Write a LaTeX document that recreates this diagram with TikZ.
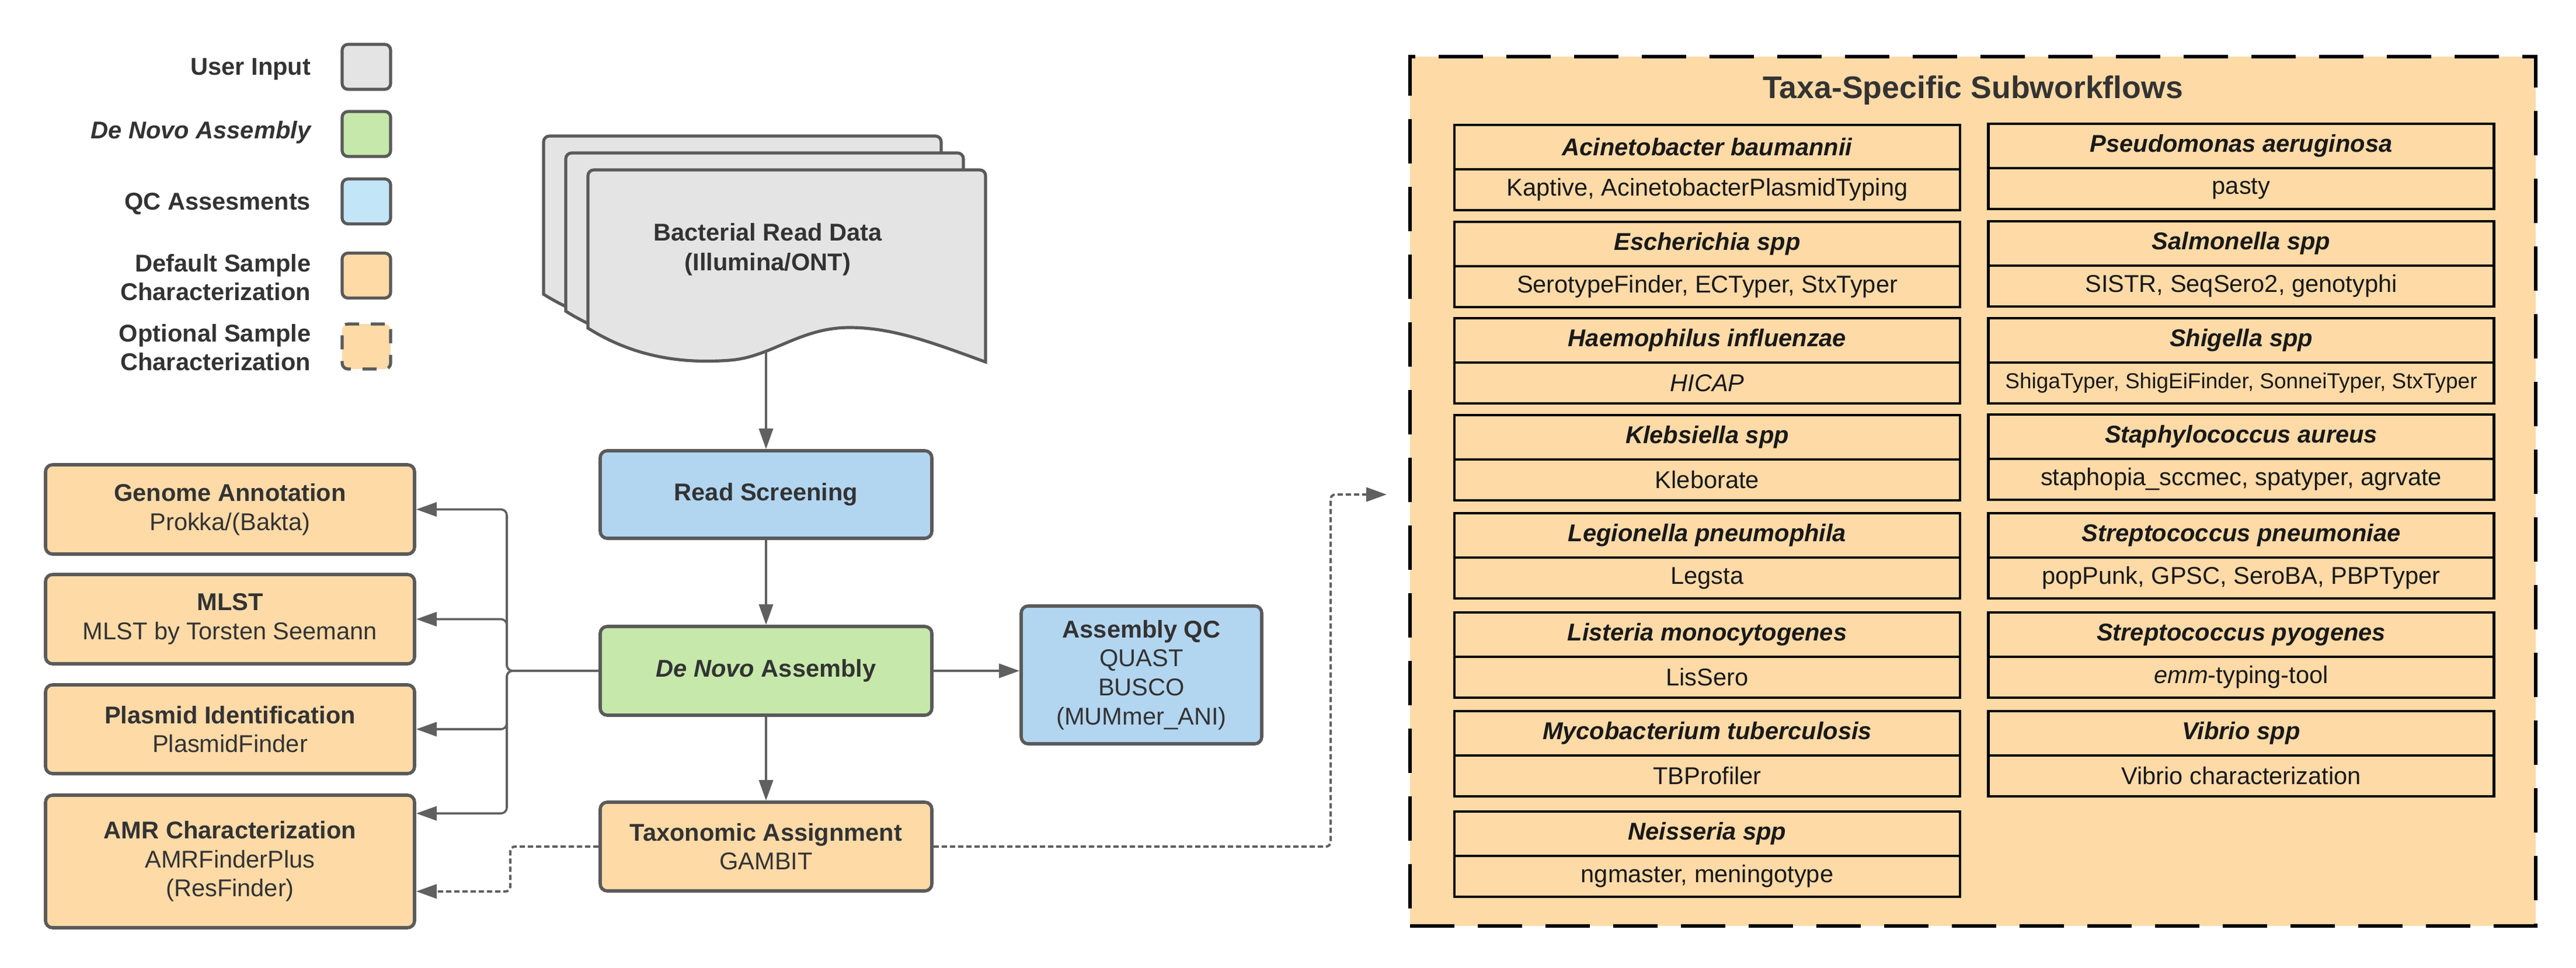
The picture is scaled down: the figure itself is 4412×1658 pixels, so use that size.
\documentclass[tikz,border=0pt]{standalone}
\usepackage{fontspec}
\setmainfont{Liberation Sans}
\usetikzlibrary{arrows.meta,calc}
\definecolor{txtc}{HTML}{333333}
\definecolor{bord}{HTML}{5A5A5A}
\definecolor{linec}{HTML}{606060}
\definecolor{orng}{HTML}{FEDAA7}
\definecolor{grn}{HTML}{C6E8AB}
\definecolor{blu}{HTML}{B2D5F0}
\definecolor{lblu}{HTML}{C2E5F7}
\definecolor{gry}{HTML}{E4E4E4}
\newcommand\fs{\fontsize{10.4}{12.4}\selectfont}
\newcommand\docsheet[2]{%
  \path[sheet, shift={(#1,#2)}] (1007,562) [rounded corners=2.5pt] -- (1007,291) -- (1688,291) [sharp corners] -- (1688,620)
    .. controls (1600,588) and (1530,561) .. (1455,561)
    .. controls (1370,561) and (1320,612) .. (1250,617)
    .. controls (1160,624) and (1080,608) .. (1007,562) -- cycle;}
\newcommand\taxa[5]{%
  \node[taxh, anchor=north] (#1h) at (#2,#3) {#4};
  \node[taxb, anchor=north] (#1b) at (#1h.south) {#5};}
\begin{document}
\begin{tikzpicture}[x=0.25pt,y=-0.25pt,
  mbox/.style={draw=bord, line width=1.4pt, rounded corners=3pt, align=center, inner sep=0pt, text=txtc, font=\fs},
  leg/.style={draw=bord, line width=1.3pt, rounded corners=2.5pt, minimum width=20.75pt, minimum height=19.25pt, inner sep=0pt},
  legtxt/.style={anchor=east, align=right, text=txtc, font=\fontsize{10.4}{12.1}\selectfont\bfseries, inner sep=0pt},
  conn/.style={draw=linec, line width=0.9pt, -{Triangle[length=8.75pt,width=6pt]}},
  dconn/.style={conn, dash pattern=on 2.25pt off 1.25pt, line width=1pt, rounded corners=2pt},
  taxh/.style={draw=black, line width=1.1pt, fill=orng, minimum width=216.5pt, minimum height=19pt, inner sep=0pt, outer sep=0pt, font=\fs\bfseries\itshape, text=black!90},
  taxb/.style={draw=black, line width=1.1pt, minimum width=216.5pt, minimum height=17.5pt, inner sep=0pt, outer sep=0pt, font=\fs, text=black!90},
  sheet/.style={draw=bord, line width=1.3pt, fill=gry},
]
\useasboundingbox (0,0) rectangle (4412,1658);
\fill[white] (0,0) rectangle (4412,1658);

% legend
\node[leg, fill=gry] (l1) at (627.5,114.5) {};
\node[leg, fill=grn] (l2) at (627.5,229.5) {};
\node[leg, fill=lblu] (l3) at (627.5,345) {};
\node[leg, fill=orng] (l4) at (627.5,472) {};
\node[leg, fill=orng, dash pattern=on 6pt off 5pt] (l5) at (627.5,593.5) {};
\node[legtxt] (t1) at (533,119) {User Input};
\node[legtxt] (t2) at (533,227) {\itshape De Novo Assembly};
\node[legtxt] (t3) at (533,349) {QC Assesments};
\node[legtxt] (t4) at (533,475) {Default Sample\\Characterization};
\node[legtxt] (t5) at (533,595) {Optional Sample\\Characterization};

% document stack
\docsheet{-76}{-58}
\docsheet{-38}{-29}
\docsheet{0}{0}
\node[font=\fontsize{10.4}{12.7}\selectfont\bfseries, text=txtc, align=center, inner sep=0pt] (doc) at (1315,427) {Bacterial Read Data\\(Illumina/ONT)};
\coordinate (docb) at (1312,601);

% main boxes
\node[mbox, fill=blu, minimum width=142pt, minimum height=37.5pt] (rs) at (1312,847) {\bfseries Read Screening};
\node[mbox, fill=grn, minimum width=142pt, minimum height=38pt] (dn) at (1312,1149) {\bfseries\textit{De Novo} Assembly};
\node[mbox, fill=orng, minimum width=142pt, minimum height=38pt] (tax) at (1312,1450) {\textbf{Taxonomic Assignment}\\GAMBIT};
\node[mbox, fill=blu, minimum width=103pt, minimum height=59pt] (qc) at (1955,1156) {\textbf{Assembly QC}\\QUAST\\BUSCO\\(MUMmer\_ANI)};

\node[mbox, fill=orng, minimum width=158pt, minimum height=38.25pt] (ga) at (394,872.5) {\textbf{Genome Annotation}\\Prokka/(Bakta)};
\node[mbox, fill=orng, minimum width=158pt, minimum height=38.25pt] (mlst) at (394,1060.5) {\textbf{MLST}\\MLST by Torsten Seemann};
\node[mbox, fill=orng, minimum width=158pt, minimum height=38pt] (pf) at (394,1249) {\textbf{Plasmid Identification}\\PlasmidFinder};
\node[mbox, fill=orng, minimum width=158pt, minimum height=56.75pt] (amr) at (394,1475.5) {\textbf{AMR Characterization}\\AMRFinderPlus\\(ResFinder)};

% panel
\node[draw=black, line width=1.3pt, fill=orng, dash pattern=on 19pt off 10pt, minimum width=482pt, minimum height=372.25pt, inner sep=0pt] (panel) at (3379,841.5) {};
\node[font=\fontsize{13.4}{16}\selectfont\bfseries, text=txtc, inner sep=0pt] (ptitle) at (3379,155) {Taxa-Specific Subworkflows};

\taxa{a1}{2924}{214}{Acinetobacter baumannii}{Kaptive, AcinetobacterPlasmidTyping}
\taxa{a2}{2924}{380}{Escherichia spp}{SerotypeFinder, ECTyper, StxTyper}
\taxa{a3}{2924}{545}{Haemophilus influenzae}{\itshape HICAP}
\taxa{a4}{2924}{711}{Klebsiella spp}{Kleborate}
\taxa{a5}{2924}{879}{Legionella pneumophila}{Legsta}
\taxa{a6}{2924}{1049}{Listeria monocytogenes}{LisSero}
\taxa{a7}{2924}{1218}{Mycobacterium tuberculosis}{TBProfiler}
\taxa{a8}{2924}{1390}{Neisseria spp}{ngmaster, meningotype}
\taxa{b1}{3838.5}{212}{Pseudomonas aeruginosa}{pasty}
\taxa{b2}{3838.5}{379}{Salmonella spp}{SISTR, SeqSero2, genotyphi}
\taxa{b3}{3838.5}{545}{Shigella spp}{\fontsize{9.25}{11}\selectfont ShigaTyper, ShigEiFinder, SonneiTyper, StxTyper}
\taxa{b4}{3838.5}{710}{Staphylococcus aureus}{staphopia\_sccmec, spatyper, agrvate}
\taxa{b5}{3838.5}{879}{Streptococcus pneumoniae}{popPunk, GPSC, SeroBA, PBPTyper}
\taxa{b6}{3838.5}{1049}{Streptococcus pyogenes}{\textit{emm}-typing-tool}
\taxa{b7}{3838.5}{1218}{Vibrio spp}{Vibrio characterization}

% connectors
\draw[conn] (docb) -- (rs.north);
\draw[conn] (rs.south) -- (dn.north);
\draw[conn] (dn.south) -- (tax.north);
\draw[conn] (dn.east) -- (dn.east -| qc.west);
\coordinate (bus) at (868,1149);
\draw[conn, rounded corners=2.5pt] (dn.west) -- (bus) |- (ga.east);
\draw[conn, rounded corners=2.5pt] (dn.west) -- (bus) |- (mlst.east);
\draw[conn, rounded corners=2.5pt] (dn.west) -- (bus) |- (pf.east);
\draw[conn, rounded corners=2.5pt] (dn.west) -- (bus) |- ($(amr.north east)+(0,34)$);
\coordinate (dl) at (874,1450);
\draw[dconn] (tax.west) -- (dl) |- ($(amr.south east)+(0,-65)$);
\coordinate (dr) at (2279,1450);
\coordinate (panelin) at (2375,847);
\draw[dconn] (tax.east) -- (dr) |- (panelin);
\end{tikzpicture}
\end{document}
